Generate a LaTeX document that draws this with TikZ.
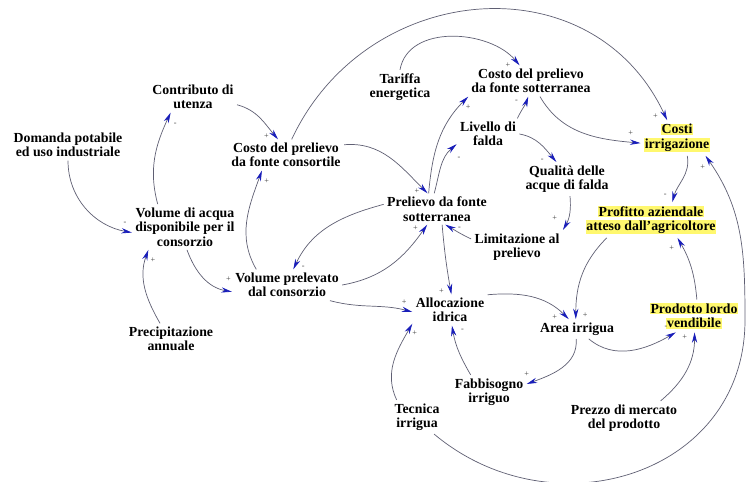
\documentclass[tikz,border=0pt]{standalone}
\usepackage{fontspec}
\setmainfont{Liberation Serif}
\usepackage{tikz}
\usetikzlibrary{arrows.meta}
\usepackage{xcolor}
\definecolor{linkgray}{RGB}{95,95,115}
\definecolor{tipblue}{RGB}{25,30,185}
\definecolor{hlyellow}{RGB}{255,248,110}
\newcommand{\hlt}[1]{{\setlength{\fboxsep}{0.6pt}\colorbox{hlyellow}{#1}}}

\begin{document}
\begin{tikzpicture}[x=0.03cm,y=0.03cm,
    var/.style={align=center,inner sep=1.5pt,outer sep=1.5pt,font=\bfseries\fontsize{11.8}{12.4}\selectfont},
    link/.style={draw=linkgray,line width=0.6pt,-{Stealth[length=9pt,width=4.5pt,color=tipblue]}},
    sgn/.style={inner sep=0pt,text=black!75,font=\fontsize{7}{8}\selectfont}]
      \useasboundingbox (0,0) rectangle (746,482);
      \node[var] (domanda) at (68,337) {Domanda potabile\\ed uso industriale};
      \node[var] (contributo) at (193,385) {Contributo di\\utenza};
      \node[var] (volacqua) at (185,255) {Volume di acqua\\disponibile per il\\consorzio};
      \node[var] (precip) at (171,143) {Precipitazione\\annuale};
      \node[var] (costocons) at (286,327) {Costo del prelievo\\da fonte consortile};
      \node[var] (tariffa) at (400,395) {Tariffa\\energetica};
      \node[var] (costosott) at (531,401) {Costo del prelievo\\da fonte sotterranea};
      \node[var] (livello) at (488,348) {Livello di\\falda};
      \node[var] (qualita) at (567,303) {Qualità delle\\acque di falda};
      \node[var] (costiirr) at (677,344) {\hlt{Costi}\\\hlt{irrigazione}};
      \node[var] (profitto) at (651,262) {\hlt{Profitto aziendale}\\\hlt{atteso dall'agricoltore}};
      \node[var] (limitaz) at (517,235) {Limitazione al\\prelievo};
      \node[var] (prelievo) at (437,273) {Prelievo da fonte\\sotterranea};
      \node[var] (volprel) at (287,197) {Volume prelevato\\dal consorzio};
      \node[var] (allocaz) at (450,172) {Allocazione\\idrica};
      \node[var] (area) at (577,153) {Area irrigua};
      \node[var] (prodotto) at (694,166) {\hlt{Prodotto lordo}\\\hlt{vendibile}};
      \node[var] (fabbis) at (489,90) {Fabbisogno\\irriguo};
      \node[var] (tecnica) at (417,65) {Tecnica\\irrigua};
      \node[var] (prezzo) at (624,64) {Prezzo di mercato\\del prodotto};
      \coordinate (loopR) at (745,162);

      % consorzio
      \draw[link] (domanda.south) to[out=-90,in=170] node[sgn,at end,xshift=-6pt,yshift=8pt]{-} (volacqua.186);
      \draw[link] (volacqua.140) to[out=105,in=-115] node[sgn,at end,xshift=4pt,yshift=-10pt]{-} (contributo.215);
      \draw[link] (contributo.-10) to[out=-15,in=130] node[sgn,at end,xshift=-10pt,yshift=3pt]{+} (costocons.117);
      \draw[link] (precip.125) to[out=120,in=-110] node[sgn,at end,xshift=4pt,yshift=-9pt]{+} (volacqua.212);
      \draw[link] (volacqua.-85) to[out=-70,in=170] node[sgn,at end,xshift=-3pt,yshift=11pt]{+} (volprel.187);
      \draw[link] (volprel.153) to[out=120,in=-110] node[sgn,at end,xshift=4pt,yshift=-9pt]{+} (costocons.213);
      \draw[link] (costocons.10) to[out=5,in=135] node[sgn,at end,xshift=-9pt,yshift=2pt]{+} (prelievo.121);
      \draw[link] (costocons.70) to[out=65,in=115,looseness=1.2] node[sgn,at end,xshift=-10pt,yshift=3pt]{+} (costiirr.119);

      % falda
      \draw[link] (tariffa.north) to[out=80,in=130] node[sgn,at end,xshift=-10pt]{+} (costosott.126);
      \draw[link] (prelievo.118) to[out=85,in=-135] node[sgn,at end,yshift=-9pt]{+} (costosott.194);
      \draw[link] (prelievo.100) to[out=75,in=-140] node[sgn,at end,xshift=2pt,yshift=-12pt]{-} (livello.198);
      \draw[link] (livello.28) to[out=65,in=-110] node[sgn,at end,xshift=-10pt,yshift=-4pt]{-} (costosott.-100);
      \draw[link] (livello.east) to[out=-10,in=130] node[sgn,at end,xshift=-12pt,yshift=1pt]{-} (qualita.122);
      \draw[link] (costosott.-60) to[out=-60,in=175] node[sgn,at end,xshift=-8.5pt,yshift=8.5pt]{+} (costiirr.188);
      \draw[link] (qualita.-80) to[out=-85,in=60] node[sgn,at end,xshift=-7pt,yshift=10pt]{+} (limitaz.north east);
      \draw[link] (limitaz.170) to[out=155,in=-30] node[sgn,at end,xshift=12pt,yshift=-3pt]{-} (prelievo.-62);
      \draw[link] (prelievo.175) to[out=195,in=65] node[sgn,at end,xshift=8.5pt,yshift=2pt]{-} (volprel.68);
      \draw[link] (volprel.east) to[out=10,in=-125] node[sgn,at end,xshift=-10pt,yshift=-3pt]{+} (prelievo.238);

      % azienda
      \draw[link] (prelievo.-72) to[out=-85,in=100] node[sgn,at end,xshift=-8.5pt,yshift=2.5pt]{+} (allocaz.85);
      \draw[link] (volprel.-20) to[out=-15,in=165] node[sgn,at end,xshift=-7pt,yshift=8pt]{+} (allocaz.183);
      \draw[link] (tecnica.140) to[out=115,in=-120] node[sgn,at end,xshift=2pt,yshift=-8.5pt]{+} (allocaz.200);
      \draw[link] (fabbis.137) to[out=120,in=-80] node[sgn,at end,xshift=9pt,yshift=-4pt]{-} (allocaz.-83);
      \draw[link] (allocaz.22) to[out=5,in=135] node[sgn,at end,xshift=-12pt,yshift=2pt]{+} (area.130);
      \draw[link] (profitto.202) to[out=-135,in=90] node[sgn,at end,xshift=8pt,yshift=3pt]{+} (area.97);
      \draw[link] (area.-95) to[out=-85,in=20] node[sgn,at end,yshift=8.5pt]{+} (fabbis.12);
      \draw[link] (area.-40) to[out=-40,in=-150] node[sgn,at end,xshift=-8.5pt,yshift=4pt]{-} (prodotto.222);
      \draw[link] (prezzo.25) to[out=40,in=-90] node[sgn,at end,xshift=-8.5pt,yshift=-4pt]{+} (prodotto.-88);
      \draw[link] (prodotto.80) to[out=95,in=-60] node[sgn,at end,xshift=-5pt,yshift=-9pt]{+} (profitto.-34);
      \draw[link] (costiirr.-60) to[out=-80,in=75] node[sgn,at end,xshift=-6pt,yshift=6pt]{-} (profitto.40);
      \draw[link] (tecnica.-45) to[out=-40,in=-90,looseness=1.2] (loopR) to[out=90,in=-55] node[sgn,at end,xshift=-2.5pt,yshift=-10pt]{+} (costiirr.-32);
    \end{tikzpicture}
\end{document}
